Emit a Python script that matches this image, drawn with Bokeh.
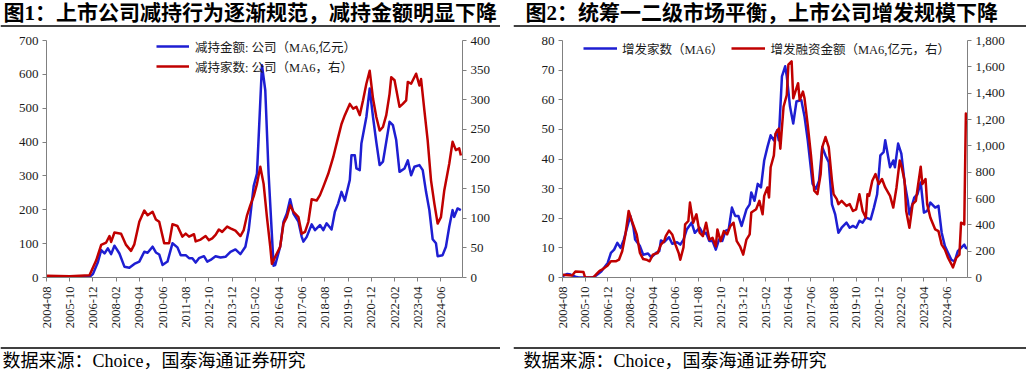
import math
from bokeh.plotting import figure
from bokeh.models import (Range1d, LinearAxis, FixedTicker, NumeralTickFormatter,
                          Span, Label, Legend, LegendItem)
from bokeh.layouts import row, column
from bokeh.embed import file_html
from bokeh.resources import INLINE

# ---------------- data ----------------
tick_labels = ["2004-08", "2005-10", "2006-12", "2008-02", "2009-04", "2010-06",
               "2011-08", "2012-10", "2013-12", "2015-02", "2016-04", "2017-06",
               "2018-08", "2019-10", "2020-12", "2022-02", "2023-04", "2024-06"]

# Chart 1: 减持金额 (left, 亿元)
c1_amt_dates = ["2004-08","2005-10","2006-10","2006-12","2007-03","2007-05","2007-07","2007-09","2007-11","2008-01",
                "2008-04","2008-07","2008-10","2009-01","2009-04","2009-07","2009-09","2009-12","2010-02","2010-04",
                "2010-06","2010-09","2010-12","2011-03","2011-05","2011-08","2011-10","2011-12","2012-02","2012-04",
                "2012-07","2012-09","2012-11","2013-02","2013-05","2013-08","2013-11","2014-02","2014-05","2014-08",
                "2014-10","2015-01","2015-03","2015-06","2015-08","2015-10","2016-01","2016-02","2016-05","2016-07",
                "2016-09","2016-11","2017-01","2017-04","2017-06","2017-07","2017-09","2017-12","2018-02","2018-05",
                "2018-07","2018-09","2018-12","2019-02","2019-04","2019-06","2019-08","2019-11","2019-12","2020-02",
                "2020-03","2020-05","2020-06","2020-09","2020-11","2021-01","2021-03","2021-05","2021-07","2021-08",
                "2021-11","2022-01","2022-03","2022-05","2022-08","2022-10","2022-12","2023-02","2023-05","2023-07",
                "2023-09","2023-11","2024-01","2024-03","2024-04","2024-07","2024-09","2024-11","2025-01","2025-02",
                "2025-04","2025-06"]
c1_amt_vals = [1, 1, 2, 10, 45, 81, 71, 86, 69, 94,
               71, 32, 29, 40, 47, 76, 73, 91, 74, 68,
               37, 47, 101, 89, 66, 66, 57, 57, 44, 57,
               63, 47, 52, 63, 59, 61, 76, 83, 69, 91,
               140, 270, 307, 627, 553, 307, 35, 37, 91, 165,
               189, 231, 189, 165, 120, 106, 120, 157, 140, 155,
               140, 160, 142, 194, 219, 253, 227, 288, 361, 361,
               322, 317, 396, 474, 558, 474, 400, 332, 342, 371,
               460, 450, 406, 312, 322, 346, 302, 327, 332, 317,
               253, 199, 113, 101, 63, 66, 91, 150, 199, 179,
               204, 199]

# Chart 1: 减持家数 (right)
c1_cnt_dates = ["2004-08","2005-10","2006-10","2007-02","2007-05","2007-08","2007-10","2007-11","2008-01","2008-05",
                "2008-08","2008-11","2009-01","2009-04","2009-07","2009-09","2009-12","2010-02","2010-04","2010-07",
                "2010-10","2010-12","2011-03","2011-06","2011-08","2011-10","2012-01","2012-02","2012-05","2012-08",
                "2012-10","2012-12","2013-02","2013-04","2013-06","2013-09","2013-11","2014-02","2014-05","2014-07",
                "2014-09","2014-11","2015-01","2015-03","2015-05","2015-07","2015-09","2015-11","2015-12","2016-02",
                "2016-05","2016-07","2016-09","2016-11","2017-01","2017-04","2017-06","2017-08","2017-10","2017-12",
                "2018-03","2018-05","2018-07","2018-10","2019-01","2019-04","2019-06","2019-08","2019-11","2020-01",
                "2020-03","2020-05","2020-07","2020-09","2020-11","2021-01","2021-03","2021-05","2021-07","2021-09",
                "2021-11","2021-12","2022-02","2022-05","2022-07","2022-09","2022-10","2022-12","2023-03","2023-05",
                "2023-06","2023-08","2023-10","2023-12","2024-02","2024-04","2024-06","2024-08","2024-11","2025-01",
                "2025-03","2025-05","2025-06"]
c1_cnt_vals = [3, 2, 4, 29, 55, 59, 70, 60, 76, 74,
               55, 45, 56, 94, 113, 105, 111, 98, 94, 58,
               58, 90, 87, 69, 74, 69, 73, 61, 64, 70,
               63, 66, 72, 81, 77, 86, 83, 79, 70, 80,
               105, 122, 137, 158, 187, 158, 102, 52, 23, 35,
               52, 91, 102, 122, 111, 102, 74, 77, 94, 132,
               130, 139, 153, 175, 203, 237, 259, 274, 293, 285,
               288, 274, 299, 327, 349, 302, 271, 248, 254, 274,
               310, 338, 333, 288, 293, 299, 330, 327, 344, 324,
               335, 282, 231, 164, 125, 91, 102, 147, 192, 229,
               215, 218, 206]

# Chart 2: 增发家数 (left)
c2_cnt_dates = ["2004-08","2004-11","2005-01","2005-04","2005-06","2006-02","2006-04","2006-08","2006-12","2007-02",
                "2007-04","2007-06","2007-08","2007-10","2007-12","2008-02","2008-04","2008-05","2008-08","2008-10",
                "2009-01","2009-03","2009-06","2009-08","2009-09","2009-11","2010-02","2010-04","2010-07","2010-09",
                "2010-11","2011-01","2011-04","2011-06","2011-09","2011-11","2012-01","2012-03","2012-05","2012-07",
                "2012-09","2012-11","2013-01","2013-03","2013-05","2013-07","2013-09","2013-11","2014-02","2014-04",
                "2014-05","2014-07","2014-09","2014-11","2015-01","2015-03","2015-05","2015-07","2015-09","2015-10",
                "2015-12","2016-02","2016-03","2016-05","2016-07","2016-09","2016-12","2017-02","2017-04","2017-07",
                "2017-09","2017-11","2018-01","2018-03","2018-05","2018-07","2018-09","2018-11","2019-01","2019-04",
                "2019-06","2019-08","2019-10","2019-12","2020-02","2020-04","2020-07","2020-09","2020-11","2021-01",
                "2021-03","2021-04","2021-07","2021-09","2021-10","2021-12","2022-02","2022-04","2022-06","2022-07",
                "2022-10","2022-12","2023-02","2023-04","2023-06","2023-08","2023-11","2024-01","2024-03","2024-05",
                "2024-07","2024-09","2024-11","2025-01","2025-03","2025-05","2025-06","2025-07"]
c2_cnt_vals = [0.5, 1.2, 1.0, 0.3, 0, 0, 0.3, 2, 4.9, 8.3,
               9.4, 11.7, 10, 12.8, 16.8, 20.8, 16.8, 12.8, 10.6, 7.7,
               8.1, 6.8, 8.3, 8.9, 12.5, 11.9, 13.6, 11.4, 11.9, 11.1,
               12.8, 16.2, 18.5, 15.1, 16.8, 14.8, 15.1, 12.3, 12.3, 9.4,
               12.8, 12.3, 15.7, 16.2, 23.6, 20.8, 20.8, 17.4, 23, 24.7,
               28.7, 25.9, 31.6, 30.4, 39.5, 44, 48, 46.3, 49.7, 46.3,
               67.9, 71.3, 67.9, 57.7, 52, 59.4, 59.9, 54.3, 46.3, 31.6,
               29.9, 32.7, 44, 41.2, 38.9, 24.7, 21.3, 15.1, 16.8, 18.5,
               16.8, 17.4, 16.8, 19.1, 18.5, 20.2, 19.6, 23.6, 28.1, 41.2,
               42.3, 46.3, 37.2, 39.5, 37.2, 45.2, 41.8, 32.1, 25.9, 21.3,
               27, 28.1, 32.1, 21.9, 22.5, 25.3, 23.6, 24.2, 15.1, 10.6,
               8.3, 6, 5.4, 8.9, 10, 11.1, 10, 9.8]

# Chart 2: 增发融资金额 (right, 亿元)
c2_amt_dates = ["2004-08","2005-02","2005-04","2005-09","2005-10","2006-03","2006-05","2006-07","2006-09","2006-12",
                "2007-02","2007-05","2007-07","2007-09","2007-11","2008-01","2008-03","2008-06","2008-08","2008-10",
                "2008-12","2009-02","2009-04","2009-07","2009-09","2009-11","2009-12","2010-02","2010-04","2010-06",
                "2010-08","2010-09","2010-11","2010-12","2011-02","2011-03","2011-05","2011-07","2011-09","2011-11",
                "2012-01","2012-03","2012-05","2012-07","2012-08","2012-10","2012-12","2013-02","2013-04","2013-06",
                "2013-08","2013-10","2013-12","2014-02","2014-04","2014-05","2014-08","2014-10","2014-12","2015-01",
                "2015-03","2015-04","2015-05","2015-07","2015-08","2015-10","2015-11","2016-01","2016-03","2016-04",
                "2016-06","2016-07","2016-10","2016-11","2017-01","2017-02","2017-04","2017-06","2017-08","2017-10",
                "2017-12","2018-01","2018-03","2018-05","2018-07","2018-08","2018-10","2018-11","2019-01","2019-04",
                "2019-06","2019-08","2019-10","2019-12","2020-02","2020-04","2020-05","2020-06","2020-08","2020-10",
                "2020-12","2021-02","2021-04","2021-07","2021-09","2021-11","2022-01","2022-02","2022-04","2022-05",
                "2022-07","2022-09","2022-11","2022-12","2023-02","2023-03","2023-05","2023-06","2023-08","2023-11",
                "2024-01","2024-03","2024-05","2024-07","2024-09","2024-10","2024-12","2025-02","2025-03","2025-05",
                "2025-06","2025-07"]
c2_amt_vals = [20, 15, 46, 41, 0, 0, 26, 51, 64, 92,
               123, 123, 135, 199, 327, 505, 429, 327, 186, 140,
               135, 123, 174, 186, 250, 276, 314, 357, 327, 250,
               186, 135, 230, 403, 429, 569, 416, 480, 340, 314,
               416, 288, 301, 237, 365, 276, 352, 327, 391, 416,
               276, 237, 174, 288, 327, 493, 518, 582, 480, 620,
               684, 608, 837, 927, 1093, 1131, 978, 1297, 1386, 1616,
               1642, 1361, 1476, 1348, 1412, 1361, 1157, 927, 659, 633,
               786, 991, 1067, 991, 735, 633, 595, 557, 582, 544,
               557, 505, 518, 633, 505, 454, 633, 620, 735, 786,
               710, 748, 684, 620, 531, 684, 888, 850, 735, 505,
               378, 557, 582, 671, 842, 710, 748, 557, 454, 365,
               352, 250, 212, 148, 102, 77, 148, 174, 416, 403,
               1246, 1195]

for d, v in [(c1_amt_dates, c1_amt_vals), (c1_cnt_dates, c1_cnt_vals),
             (c2_cnt_dates, c2_cnt_vals), (c2_amt_dates, c2_amt_vals)]:
    assert len(d) == len(v), (len(d), len(v))

# ---------------- style ----------------
FONT = "Liberation Serif, Noto Sans CJK SC"
BLUE = "#1E1ED2"
RED = "#C00000"
AXIS = "#808080"
TXT = "#1a1a1a"


def mi(s):
    y, m = s.split("-")
    return (int(y) - 2004) * 12 + int(m) - 8


def band(text, w, h, x0, ty, rule_at, size, bold):
    p = figure(width=w, height=h, x_range=Range1d(0, w), y_range=Range1d(0, h),
               toolbar_location=None, output_backend="svg", min_border=0,
               x_axis_location=None, y_axis_location=None, outline_line_color=None,
               frame_align=False)
    p.grid.visible = False
    p.add_layout(Label(x=x0, y=ty, text=text, text_font=FONT, text_font_size=size,
                       text_font_style="bold" if bold else "normal",
                       text_color="black", text_baseline="middle"))
    p.add_layout(Span(location=rule_at, dimension="width", line_color="black", line_width=1.5))
    return p


def style_axis(ax, size="13px"):
    ax.axis_line_color = AXIS
    ax.major_tick_line_color = AXIS
    ax.minor_tick_line_color = None
    ax.major_tick_out = 4
    ax.major_tick_in = 0
    ax.major_label_text_font = FONT
    ax.major_label_text_font_size = size
    ax.major_label_text_color = TXT
    ax.major_label_standoff = 4


def main_fig(left_max, left_step, right_max, right_step, bl, br, fmt=None):
    p = figure(width=513, height=318, x_range=Range1d(0, 251), y_range=Range1d(0, left_max),
               toolbar_location=None, output_backend="svg",
               min_border_left=bl, min_border_right=br, min_border_top=13, min_border_bottom=68,
               outline_line_color=None)
    p.grid.visible = False
    p.extra_y_ranges = {"right": Range1d(0, right_max)}
    rax = LinearAxis(y_range_name="right")
    p.add_layout(rax, "right")
    p.yaxis[0].ticker = FixedTicker(ticks=list(range(0, left_max + 1, left_step)))
    rax.ticker = FixedTicker(ticks=list(range(0, right_max + 1, right_step)))
    if fmt:
        rax.formatter = NumeralTickFormatter(format=fmt)
    xt = [mi(t) for t in tick_labels]
    p.xaxis.ticker = FixedTicker(ticks=xt)
    p.xaxis.major_label_overrides = {mi(t): t for t in tick_labels}
    p.xaxis.major_label_orientation = math.pi / 2
    for ax in p.yaxis:
        style_axis(ax)
    style_axis(p.xaxis[0], "12.5px")
    p.xaxis[0].major_label_standoff = 5
    return p


# ---------------- chart 1 ----------------
h1 = band("图1：上市公司减持行为逐渐规范，减持金额明显下降", 500, 27, 3, 15, 1.5, "21px", True)
p1 = main_fig(700, 100, 400, 50, 46, 51)
r1a = p1.line([mi(d) for d in c1_amt_dates], c1_amt_vals, line_color=BLUE, line_width=2.5, line_join="round")
r1b = p1.line([mi(d) for d in c1_cnt_dates], c1_cnt_vals, line_color=RED, line_width=2.5,
              line_join="round", y_range_name="right")
lg1 = Legend(items=[LegendItem(label="减持金额: 公司（MA6,亿元）", renderers=[r1a]),
                    LegendItem(label="减持家数: 公司（MA6，右）", renderers=[r1b])],
             location=(110, 201), orientation="vertical", padding=0, margin=0, spacing=0,
             glyph_width=33, glyph_height=20, label_height=20, label_standoff=6,
             background_fill_alpha=0, border_line_color=None,
             label_text_font=FONT, label_text_font_size="12.5px", label_text_color=TXT)
p1.add_layout(lg1)
f1 = band("数据来源：Choice，国泰海通证券研究", 500, 25, 2, 10, 22.5, "18px", False)

# ---------------- chart 2 ----------------
h2 = band("图2：统筹一二级市场平衡，上市公司增发规模下降", 513, 27, 12, 15, 1.5, "21px", True)
p2 = main_fig(80, 10, 1800, 200, 49, 59, fmt="0,0")
r2a = p2.line([mi(d) for d in c2_cnt_dates], c2_cnt_vals, line_color=BLUE, line_width=2.5, line_join="round")
r2b = p2.line([mi(d) for d in c2_amt_dates], c2_amt_vals, line_color=RED, line_width=2.5,
              line_join="round", y_range_name="right")
lg2 = Legend(items=[LegendItem(label="增发家数（MA6）", renderers=[r2a]),
                    LegendItem(label="增发融资金额（MA6,亿元，右）", renderers=[r2b])],
             location=(21, 219), orientation="horizontal", padding=0, margin=0, spacing=8,
             glyph_width=34, glyph_height=20, label_height=20, label_standoff=5,
             background_fill_alpha=0, border_line_color=None,
             label_text_font=FONT, label_text_font_size="12.5px", label_text_color=TXT)
p2.add_layout(lg2)
f2 = band("数据来源：Choice，国泰海通证券研究", 513, 25, 10, 10, 22.5, "18px", False)

layout = row(column(h1, p1, f1), column(h2, p2, f2))
open("out.html", "w").write(file_html(layout, INLINE))
